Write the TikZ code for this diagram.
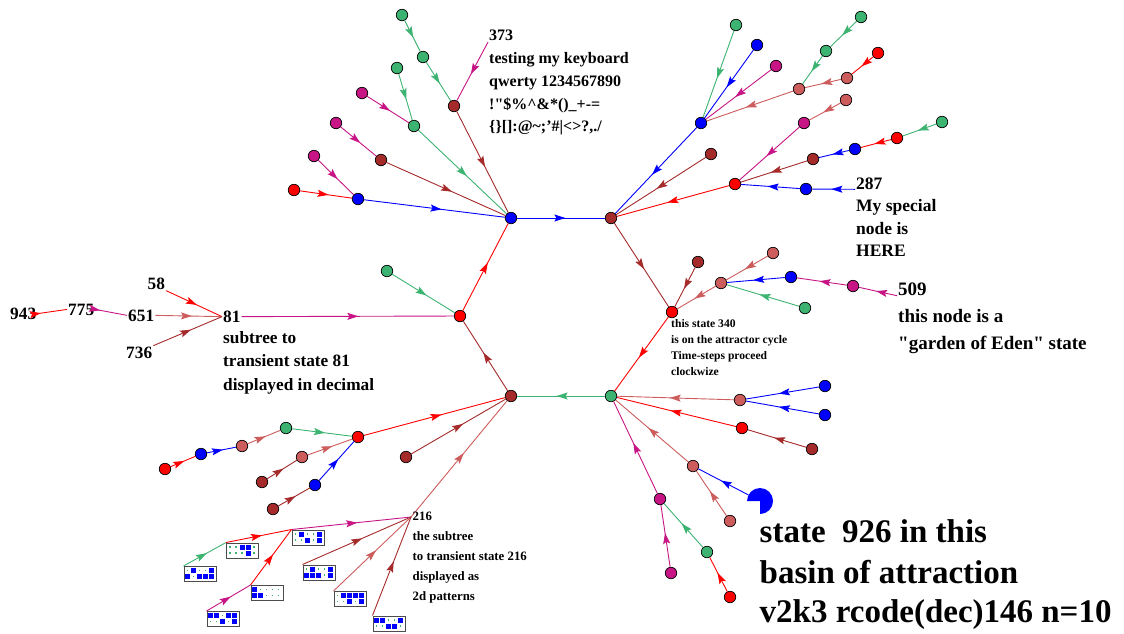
\documentclass[tikz,border=0pt]{standalone}
\usepackage{fontspec}
\setmainfont{Liberation Serif}
\usetikzlibrary{arrows.meta,decorations.markings}
\definecolor{cR}{HTML}{FF0000}
\definecolor{cB}{HTML}{0000FF}
\definecolor{cG}{HTML}{3CB371}
\definecolor{cBr}{HTML}{A52A2A}
\definecolor{cI}{HTML}{CD5C5C}
\definecolor{cM}{HTML}{C71585}
\def\mpos{0.55}
\tikzset{
 st/.style={circle, draw=black, line width=0.7pt, fill=#1, minimum size=11.5pt, inner sep=0pt},
 mpos/.code={\def\mpos{#1}},
 ed/.style={color=#1, line width=0.9pt, postaction={decorate},
   decoration={markings, mark=at position \mpos with {\arrow{Stealth[length=11pt,width=7pt,inset=2pt]}}}},
 lbl/.style={anchor=base west, inner sep=1pt, font=\bfseries\fontsize{#1}{#1}\selectfont},
 patb/.style={rectangle, draw=black!70, line width=1.3pt, fill=white, minimum width=32pt, minimum height=15pt, inner sep=0pt, anchor=north west},
}
\newcommand\pcell[3]{\ifnum#3=1 \fill[cB] ({6*#1-4.5},{#2-2.5}) rectangle ++(5,5);\else\fill[cG] ({6*#1-2.8},{#2-0.8}) rectangle ++(1.6,1.6);\fi}
\newcommand\pbox[5]{\node[patb] (#1) at (#2,#3) {};
 \begin{scope}[shift={(#2,#3)}]
 \foreach \b [count=\i] in {#4} {\pcell{\i}{4.5}{\b}}
 \foreach \b [count=\i] in {#5} {\pcell{\i}{10.5}{\b}}
 \end{scope}}
\begin{document}
\begin{tikzpicture}[x=1pt,y=-1pt]
\useasboundingbox (0,0) rectangle (1124,633);
% attractor cycle
\node[st=cB] (A) at (511,218) {};
\node[st=cBr] (B) at (611,218) {};
\node[st=cR] (C) at (672,312) {};
\node[st=cG] (D) at (611,396) {};
\node[st=cBr] (E) at (511,396) {};
\node[st=cR] (F) at (460,316) {};
\draw[ed=cB] (A) -- (B);
\draw[ed=cBr] (B) -- (C);
\draw[ed=cR] (C) -- (D);
\draw[ed=cG] (D) -- (E);
\draw[ed=cBr] (E) -- (F);
\draw[ed=cR] (F) -- (A);
% tree A
\node[st=cB] (a1) at (358,199) {};
\node[st=cR] (a11) at (294,190) {};
\node[st=cM] (a12) at (314,156) {};
\node[st=cBr] (a2) at (381,160) {};
\node[st=cM] (a21) at (336,123) {};
\node[st=cG] (a3) at (414,126) {};
\node[st=cM] (a31) at (362,93) {};
\node[st=cG] (a32) at (397,68) {};
\node[st=cBr] (a4) at (454,106) {};
\node[st=cG] (a41) at (423,57) {};
\node[st=cG] (a411) at (402,15) {};
\draw[ed=cB] (a1) -- (A);
\draw[ed=cR] (a11) -- (a1);
\draw[ed=cM] (a12) -- (a1);
\draw[ed=cBr] (a2) -- (A);
\draw[ed=cM] (a21) -- (a2);
\draw[ed=cG] (a3) -- (A);
\draw[ed=cM] (a31) -- (a3);
\draw[ed=cG] (a32) -- (a3);
\draw[ed=cBr] (a4) -- (A);
\draw[ed=cG] (a41) -- (a4);
\draw[ed=cG] (a411) -- (a41);
\node[lbl=16] (l373) at (488,40.7) {373};
\node[lbl=16] (l373b) at (488,63.5) {testing my keyboard};
\node[lbl=16] (l373c) at (488,86.3) {qwerty 1234567890};
\node[lbl=16] (l373d) at (488,109.1) {!\textquotedbl\$\%\textasciicircum\&*()\_+-=};
\node[lbl=16] (l373e) at (488,131.9) {\{\}[]:@\textasciitilde;'\#|<>?,./};
\draw[ed=cM] (l373.south west) -- (a4);
% tree B
\node[st=cB] (b1) at (701,123) {};
\node[st=cG] (b11) at (736,25) {};
\node[st=cB] (b12) at (757,45) {};
\node[st=cM] (b13) at (776,66) {};
\node[st=cI] (b14) at (799,89) {};
\node[st=cG] (b141) at (826,51) {};
\node[st=cG] (b1411) at (861,17) {};
\node[st=cI] (b142) at (847,78) {};
\node[st=cR] (b1421) at (878,53) {};
\node[st=cBr] (b2) at (711,154) {};
\node[st=cR] (b3) at (735,184) {};
\node[st=cM] (b31) at (804,123) {};
\node[st=cI] (b311) at (846,100) {};
\node[st=cBr] (b32) at (813,159) {};
\node[st=cB] (b321) at (855,149) {};
\node[st=cR] (b3211) at (897,138) {};
\node[st=cG] (b32111) at (942,122) {};
\node[st=cB] (b33) at (806,189) {};
\draw[ed=cB] (b1) -- (B);
\draw[ed=cG] (b11) -- (b1);
\draw[ed=cB] (b12) -- (b1);
\draw[ed=cM] (b13) -- (b1);
\draw[ed=cI] (b14) -- (b1);
\draw[ed=cG] (b141) -- (b14);
\draw[ed=cG] (b1411) -- (b141);
\draw[ed=cI] (b142) -- (b14);
\draw[ed=cR] (b1421) -- (b142);
\draw[ed=cBr] (b2) -- (B);
\draw[ed=cR] (b3) -- (B);
\draw[ed=cM] (b31) -- (b3);
\draw[ed=cI] (b311) -- (b31);
\draw[ed=cBr] (b32) -- (b3);
\draw[ed=cB] (b321) -- (b32);
\draw[ed=cR] (b3211) -- (b321);
\draw[ed=cG] (b32111) -- (b3211);
\draw[ed=cB] (b33) -- (b3);
\node[lbl=17.5] (l287) at (855,189.3) {287};
\node[lbl=17.5] (l287b) at (855,211.8) {My special};
\node[lbl=17.5] (l287c) at (855,234.3) {node is};
\node[lbl=17.5] (l287d) at (855,256.8) {HERE};
\draw[ed=cB] (l287.base west) -- (b33);
% tree C
\node[st=cBr] (c1) at (698,262) {};
\node[st=cI] (c2) at (721,283) {};
\node[st=cI] (c21) at (773,253) {};
\node[st=cB] (c22) at (791,277) {};
\node[st=cM] (c221) at (853,286) {};
\node[st=cG] (c23) at (805,308) {};
\draw[ed=cBr] (c1) -- (C);
\draw[ed=cI] (c2) -- (C);
\draw[ed=cI] (c21) -- (c2);
\draw[ed=cB] (c22) -- (c2);
\draw[ed=cM] (c221) -- (c22);
\draw[ed=cG] (c23) -- (c2);
\node[lbl=19] (l509) at (897,295.7) {509};
\node[lbl=19] (l509b) at (897,322.5) {this node is a};
\node[lbl=19] (l509c) at (897,349.3) {\textquotedbl garden of Eden\textquotedbl\ state};
\draw[ed=cM] (l509.base west) -- (c221);
\node[lbl=11.6] (l340) at (670,327.7) {this state 340};
\node[lbl=11.6] (l340b) at (670,343.7) {is on the attractor cycle};
\node[lbl=11.6] (l340c) at (670,359.7) {Time-steps proceed};
\node[lbl=11.6] (l340d) at (670,375.7) {clockwize};
% tree D
\node[st=cI] (d1) at (740,400) {};
\node[st=cB] (d11) at (825,386) {};
\node[st=cB] (d12) at (825,415) {};
\node[st=cR] (d2) at (742,428) {};
\node[st=cBr] (d21) at (812,449) {};
\node[st=cI] (d3) at (693,466) {};
\node[circle, minimum size=26pt, inner sep=0pt] (d31) at (760,501) {};
\fill[cB] (d31.center) -- ++(180:13) arc[start angle=180, end angle=450, radius=13] -- cycle;
\node[st=cI] (d32) at (730,521) {};
\node[st=cM] (d4) at (660,499) {};
\node[st=cM] (d41) at (671,573) {};
\node[st=cG] (d42) at (707,552) {};
\node[st=cR] (d421) at (730,597) {};
\draw[ed=cI] (d1) -- (D);
\draw[ed=cB] (d11) -- (d1);
\draw[ed=cB] (d12) -- (d1);
\draw[ed=cR] (d2) -- (D);
\draw[ed=cBr] (d21) -- (d2);
\draw[ed=cI] (d3) -- (D);
\draw[ed=cB] (d31) -- (d3);
\draw[ed=cI] (d32) -- (d3);
\draw[ed=cM] (d4) -- (D);
\draw[ed=cM] (d41) -- (d4);
\draw[ed=cG] (d42) -- (d4);
\draw[ed=cR] (d421) -- (d42);
\node[lbl=33] (t1) at (758.5,542.5) {state\ \ 926 in this};
\node[lbl=33] (t2) at (758.5,583.5) {basin of attraction};
\node[lbl=33] (t3) at (758.5,622) {v2k3 rcode(dec)146 n=10};
% tree E
\node[st=cR] (e1) at (358,437) {};
\node[st=cG] (e11) at (286,428) {};
\node[st=cI] (e111) at (242,446) {};
\node[st=cB] (e1111) at (201,454) {};
\node[st=cR] (e11111) at (165,469) {};
\node[st=cI] (e12) at (302,457) {};
\node[st=cBr] (e121) at (262,482) {};
\node[st=cB] (e13) at (315,485) {};
\node[st=cBr] (e131) at (273,509) {};
\node[st=cBr] (e2) at (406,457) {};
\coordinate (h216) at (411,517);
\draw[ed=cR] (e1) -- (E);
\draw[ed=cG] (e11) -- (e1);
\draw[ed=cI] (e111) -- (e11);
\draw[ed=cB] (e1111) -- (e111);
\draw[ed=cR] (e11111) -- (e1111);
\draw[ed=cI] (e12) -- (e1);
\draw[ed=cBr] (e121) -- (e12);
\draw[ed=cB] (e13) -- (e1);
\draw[ed=cBr] (e131) -- (e13);
\draw[ed=cBr] (e2) -- (E);
\draw[ed=cI] (h216) -- (E);
\node[lbl=12.8] (l216) at (411.5,520.7) {216};
\node[lbl=12.8] (l216b) at (411.5,540) {the subtree};
\node[lbl=12.8] (l216c) at (411.5,560.7) {to transient state 216};
\node[lbl=12.8] (l216d) at (411.5,580.7) {displayed as};
\node[lbl=12.8] (l216e) at (411.5,600.7) {2d patterns};
\pbox{p1}{226}{542.5}{0,0,1,1,0}{0,0,0,1,0}
\pbox{p2}{183.5}{566}{0,1,0,0,1}{1,0,1,1,1}
\pbox{p3}{291.5}{529.5}{0,1,0,0,1}{0,0,1,0,1}
\pbox{p4}{250.5}{585}{1,0,0,0,0}{1,1,0,0,0}
\pbox{p5}{206.5}{611}{1,1,0,1,1}{0,0,1,0,1}
\pbox{p6}{302.5}{564.5}{0,1,0,0,1}{1,1,1,0,1}
\pbox{p7}{333.5}{591}{0,1,1,1,1}{0,0,1,0,1}
\pbox{p8}{372.5}{615.5}{1,1,0,0,1}{0,0,1,1,0}
\draw[ed=cM] (p3.north west) -- (h216);
\draw[ed=cR] (p1.north west) -- (p3.north west);
\draw[ed=cG] (p2.north west) -- (p1.north west);
\draw[ed=cR] (p4.north west) -- (p3.north west);
\draw[ed=cM] (p5.north west) -- (p4.north west);
\draw[ed=cBr] (p6.north west) -- (h216);
\draw[ed=cI] (p7.north west) -- (h216);
\draw[ed=cBr] (p8.north west) -- (h216);
% tree F
\node[st=cG] (f1) at (387,271) {};
\draw[ed=cG] (f1) -- (F);
\node[lbl=17.3] (l81) at (222,322.3) {81};
\node[lbl=17.3] (l81b) at (222,343.3) {subtree to};
\node[lbl=17.3] (l81c) at (222,366.7) {transient state 81};
\node[lbl=17.3] (l81d) at (222,390) {displayed in decimal};
\node[lbl=17.3] (l58) at (146.5,289.3) {58};
\node[lbl=17.3] (l943) at (9,319.3) {943};
\node[lbl=17.3] (l775) at (67,315) {775};
\node[lbl=17.3] (l651) at (127,321) {651};
\node[lbl=17.3] (l736) at (125,358.3) {736};
\draw[ed=cM] (l81.east) -- (F);
\draw[ed=cR] (l58.south east) -- (l81.west);
\draw[ed=cI] (l651.east) -- (l81.west);
\draw[ed=cBr] (l736.north east) -- (l81.west);
\draw[mpos=0.15, ed=cM] (l775.east) -- (l651.west);
\draw[mpos=0.12, ed=cR] (l943.east) -- (l775.west);
\end{tikzpicture}
\end{document}
